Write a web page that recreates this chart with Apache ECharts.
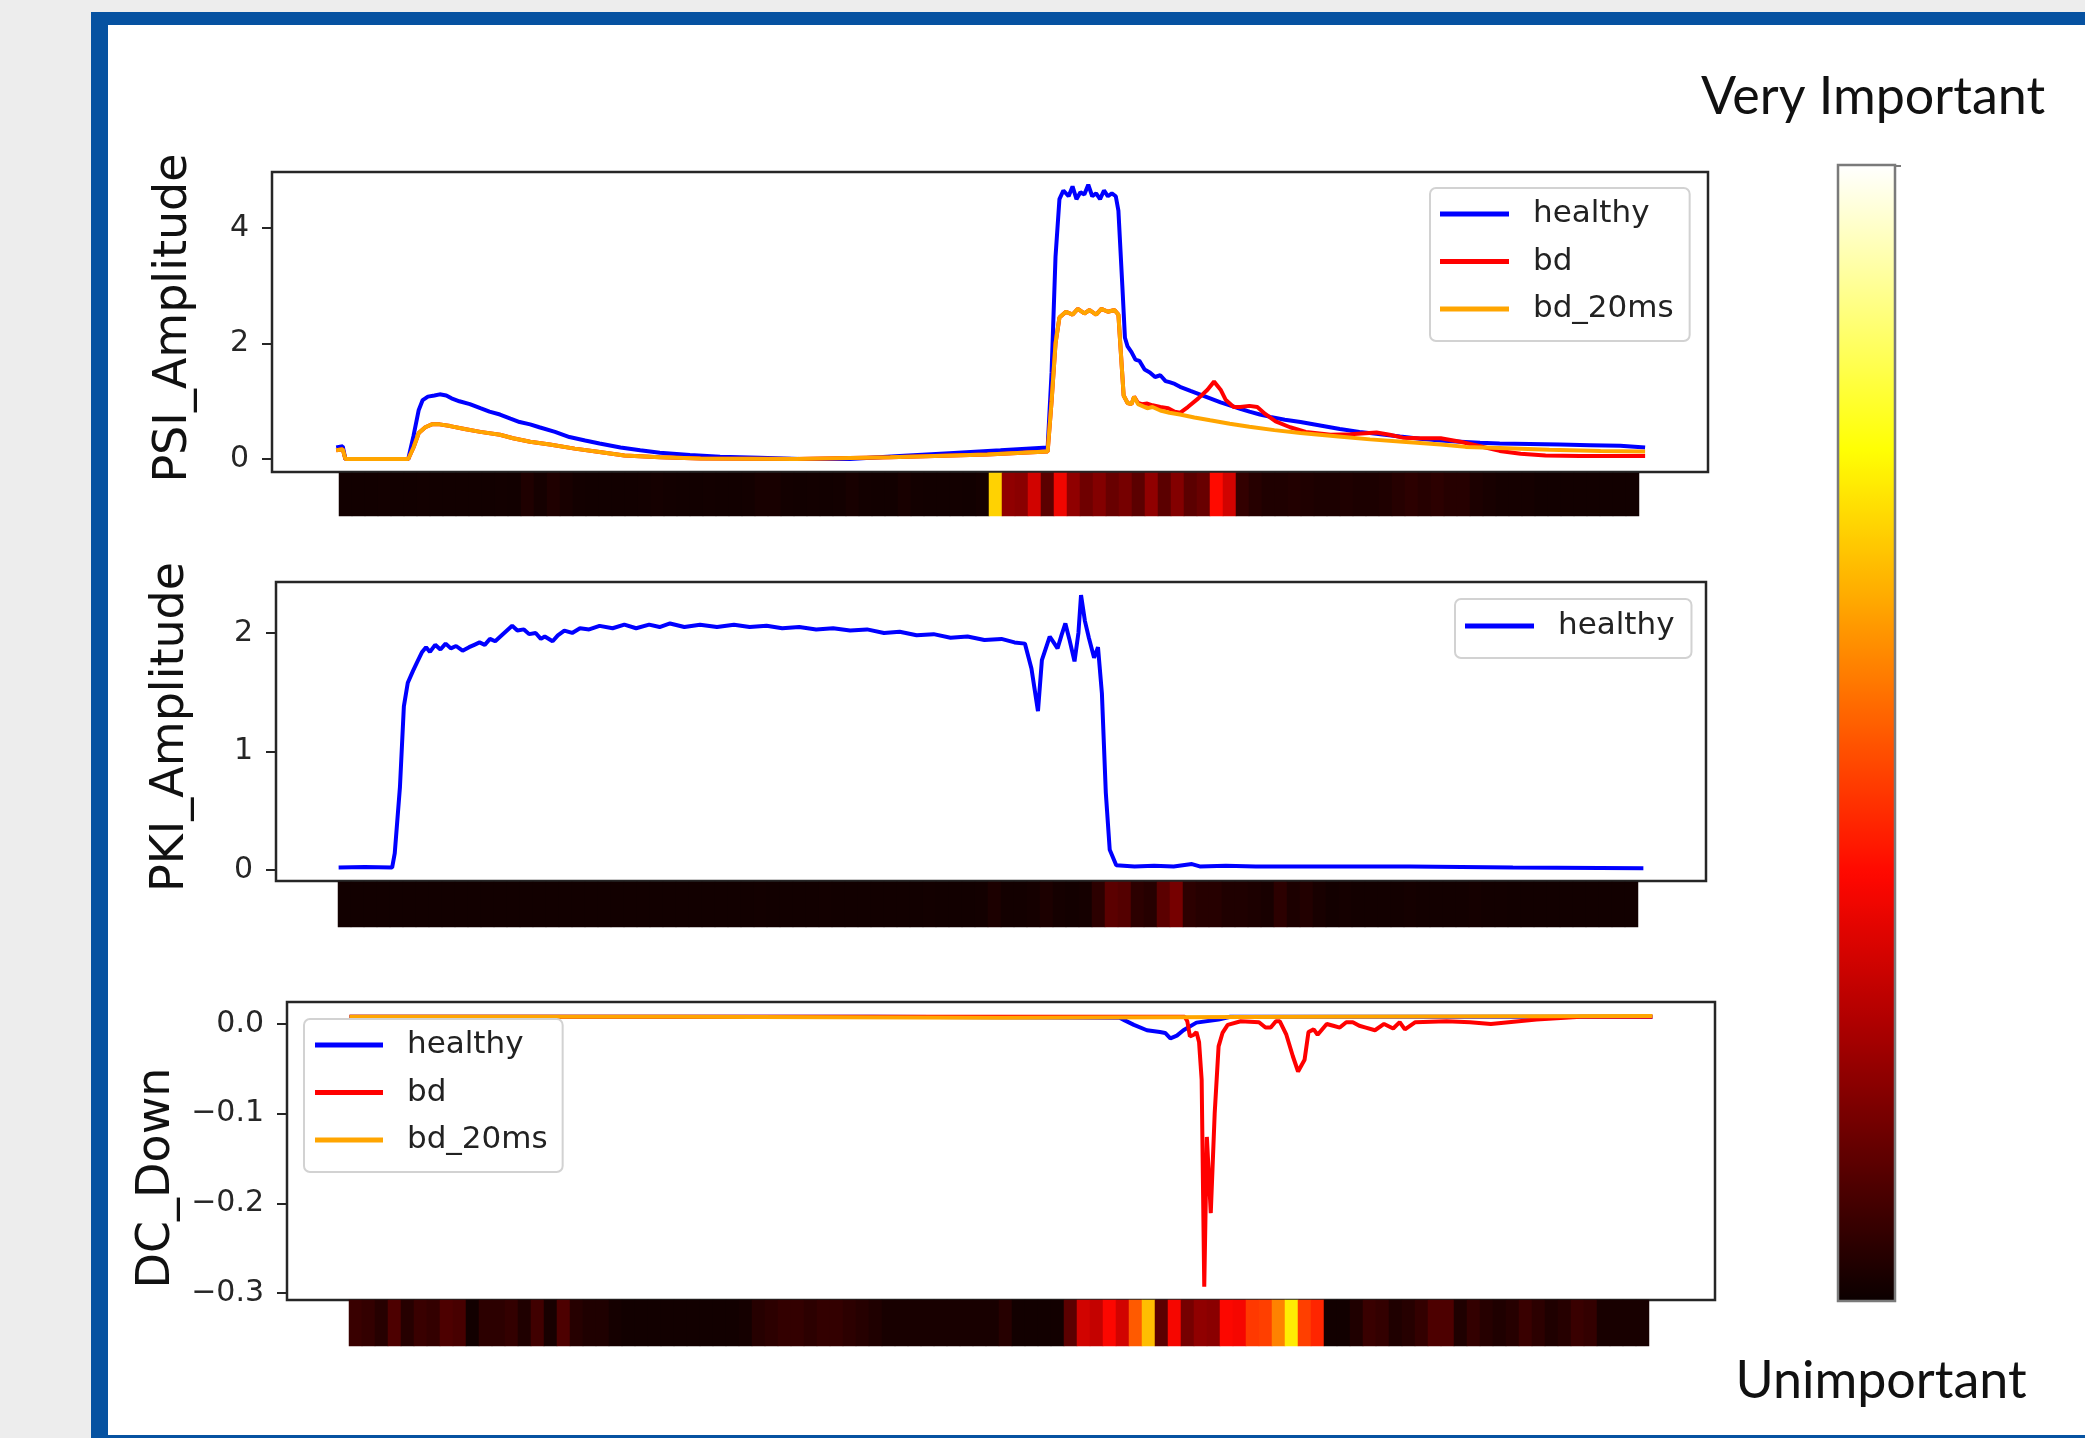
<!DOCTYPE html>
<html>
<head>
<meta charset="utf-8">
<script src="https://cdn.jsdelivr.net/npm/echarts@6/dist/echarts.min.js"></script>
<style>
html,body{margin:0;padding:0;background:#ededed;}
#c{width:2085px;height:1438px;}
</style>
</head>
<body>
<div id="c"></div>
<script>
// ---------- DATA (x = sample position 0..1000 along each signal) ----------
const psiHealthy = [[1,0.2],[6,0.22],[8,0],[56,0],[60,0.4],[64,0.85],[67,1.02],[71,1.08],[76,1.1],[80,1.12],[85,1.1],[89,1.05],[95,1.0],[103,0.95],[111,0.88],[118,0.82],[126,0.77],[134,0.7],[141,0.64],[149,0.6],[156,0.55],[168,0.47],[179,0.38],[191,0.32],[202,0.27],[218,0.2],[233,0.15],[248,0.11],[271,0.07],[294,0.04],[324,0.02],[355,0],[393,0],[431,0.05],[469,0.1],[508,0.15],[544,0.2],[547,1.5],[550,3.5],[553,4.5],[556,4.65],[560,4.55],[563,4.72],[566,4.5],[569,4.62],[572,4.58],[575,4.75],[578,4.55],[581,4.6],[584,4.5],[587,4.65],[590,4.55],[593,4.6],[596,4.55],[598,4.3],[601,3.0],[603,2.1],[605,1.95],[608,1.85],[611,1.72],[614,1.7],[618,1.55],[622,1.5],[626,1.42],[630,1.45],[634,1.35],[637,1.33],[641,1.3],[645,1.25],[653,1.18],[660,1.12],[668,1.05],[676,0.98],[683,0.93],[691,0.87],[698,0.82],[706,0.77],[714,0.73],[725,0.68],[737,0.64],[752,0.58],[767,0.52],[782,0.47],[798,0.43],[813,0.39],[828,0.35],[844,0.32],[859,0.3],[874,0.28],[889,0.27],[912,0.26],[935,0.25],[958,0.24],[981,0.23],[1000,0.2]];
const psiBd = [[1,0.15],[6,0.17],[8,0],[56,0],[60,0.2],[64,0.45],[69,0.55],[74,0.6],[80,0.6],[88,0.57],[99,0.52],[111,0.47],[126,0.42],[136,0.36],[149,0.3],[164,0.25],[183,0.18],[202,0.12],[221,0.06],[248,0.03],[279,0.01],[352,0],[424,0.03],[498,0.08],[544,0.13],[547,1.0],[550,2.0],[553,2.45],[558,2.55],[563,2.5],[567,2.6],[572,2.52],[576,2.58],[581,2.5],[585,2.6],[590,2.55],[595,2.58],[598,2.5],[600,1.8],[602,1.1],[605,0.97],[608,0.95],[610,1.08],[613,0.97],[616,0.95],[620,0.96],[624,0.93],[630,0.9],[636,0.88],[641,0.82],[645,0.8],[651,0.9],[659,1.05],[666,1.2],[671,1.34],[676,1.2],[680,1.02],[686,0.9],[691,0.9],[698,0.92],[704,0.9],[710,0.78],[718,0.65],[729,0.55],[741,0.47],[760,0.42],[775,0.43],[795,0.46],[805,0.42],[815,0.37],[828,0.36],[844,0.36],[859,0.3],[874,0.22],[889,0.14],[905,0.09],[924,0.06],[950,0.05],[1000,0.05]];
const psiBd20 = [[1,0.15],[6,0.17],[8,0],[56,0],[60,0.2],[64,0.45],[69,0.55],[74,0.6],[80,0.6],[88,0.57],[99,0.52],[111,0.47],[126,0.42],[136,0.36],[149,0.3],[164,0.25],[183,0.18],[202,0.12],[221,0.06],[248,0.03],[279,0.01],[352,0],[424,0.03],[498,0.08],[544,0.13],[547,1.0],[550,2.0],[553,2.45],[558,2.55],[563,2.5],[567,2.6],[572,2.52],[576,2.58],[581,2.5],[585,2.6],[590,2.55],[595,2.58],[598,2.5],[600,1.8],[602,1.1],[605,0.97],[608,0.95],[610,1.08],[613,0.95],[616,0.92],[620,0.88],[624,0.9],[630,0.84],[637,0.8],[645,0.77],[656,0.72],[668,0.67],[683,0.61],[698,0.56],[717,0.5],[737,0.45],[766,0.39],[790,0.34],[815,0.3],[844,0.25],[863,0.21],[889,0.19],[927,0.16],[966,0.14],[1000,0.13]];

const pkiHealthy = [[0,0.02],[20,0.025],[41,0.02],[43,0.14],[47,0.7],[50,1.38],[53,1.58],[57,1.68],[60,1.75],[64,1.84],[67,1.88],[70,1.84],[74,1.9],[78,1.86],[82,1.91],[86,1.87],[90,1.89],[95,1.85],[100,1.88],[104,1.9],[108,1.92],[112,1.9],[116,1.95],[120,1.93],[125,1.98],[129,2.02],[133,2.06],[137,2.02],[142,2.03],[146,1.99],[151,2.0],[155,1.95],[158,1.97],[164,1.93],[168,1.98],[173,2.02],[179,2.0],[185,2.04],[192,2.03],[200,2.06],[210,2.04],[219,2.07],[228,2.04],[238,2.07],[246,2.05],[254,2.08],[265,2.05],[277,2.07],[290,2.05],[303,2.07],[315,2.05],[328,2.06],[340,2.04],[353,2.05],[366,2.03],[379,2.04],[392,2.02],[405,2.03],[418,2.0],[430,2.01],[443,1.98],[456,1.99],[469,1.96],[482,1.97],[495,1.94],[508,1.95],[518,1.92],[526,1.91],[531,1.7],[536,1.34],[539,1.77],[545,1.97],[548,1.92],[551,1.87],[554,1.98],[557,2.08],[560,1.95],[564,1.76],[567,2.0],[569,2.32],[572,2.1],[575,1.96],[579,1.79],[582,1.88],[585,1.49],[588,0.65],[591,0.17],[596,0.04],[610,0.03],[625,0.035],[640,0.03],[654,0.05],[660,0.03],[680,0.035],[703,0.03],[760,0.03],[821,0.03],[900,0.02],[1000,0.015]];

const dcHealthy = [[0,0.008],[200,0.008],[400,0.008],[591,0.007],[595,0.004],[602,-0.001],[612,-0.007],[622,-0.009],[626,-0.01],[630,-0.016],[635,-0.013],[640,-0.007],[650,0.0015],[667,0.005],[676,0.008],[800,0.008],[1000,0.008]];
const dcBd = [[0,0.008],[300,0.008],[641,0.008],[643,0.003],[645,-0.014],[648,-0.012],[650,-0.009],[652,-0.02],[654,-0.062],[656,-0.293],[658,-0.126],[661,-0.211],[664,-0.1],[667,-0.025],[670,-0.01],[674,-0.001],[684,0.003],[698,0.002],[703,-0.004],[707,-0.004],[711,0.003],[714,0.003],[719,-0.012],[724,-0.036],[728,-0.053],[733,-0.04],[736,-0.009],[740,-0.006],[743,-0.012],[750,0.0],[755,-0.002],[760,-0.004],[765,0.002],[770,0.002],[775,-0.002],[780,-0.004],[787,-0.007],[794,0.0],[801,-0.005],[806,0.002],[810,-0.006],[818,0.002],[842,0.003],[860,0.002],[876,0.0],[911,0.005],[945,0.008],[1000,0.008]];
const dcBd20 = [[0,0.008],[250,0.008],[500,0.007],[750,0.008],[1000,0.009]];

// importance strips (one value per column, 0..1)
const psiImportance = [0.01,0.01,0.01,0.012,0.01,0.01,0.012,0.01,0.01,0.01,
 0.01,0.01,0.012,0.01,0.03,0.015,0.03,0.02,0.012,0.01,
 0.01,0.01,0.01,0.012,0.015,0.012,0.01,0.01,0.012,0.01,
 0.01,0.012,0.02,0.02,0.012,0.01,0.012,0.01,0.012,0.02,
 0.012,0.01,0.01,0.02,0.012,0.01,0.01,0.012,0.01,0.015,
 0.68,0.2,0.19,0.3,0.12,0.35,0.2,0.15,0.18,0.14,
 0.16,0.12,0.2,0.12,0.18,0.12,0.14,0.38,0.3,0.06,
 0.04,0.03,0.03,0.035,0.03,0.025,0.025,0.03,0.025,0.025,
 0.03,0.04,0.05,0.04,0.05,0.04,0.04,0.025,0.02,0.015,
 0.015,0.015,0.01,0.01,0.01,0.01,0.01,0.01,0.01,0.01];
const pkiImportance = [0.01,0.01,0.01,0.01,0.01,0.01,0.01,0.01,0.01,0.01,
 0.01,0.01,0.01,0.01,0.01,0.01,0.01,0.01,0.01,0.01,
 0.01,0.01,0.01,0.01,0.01,0.01,0.01,0.01,0.01,0.01,
 0.01,0.01,0.012,0.01,0.01,0.01,0.01,0.012,0.01,0.01,
 0.01,0.01,0.01,0.01,0.01,0.012,0.01,0.01,0.01,0.012,
 0.025,0.012,0.012,0.015,0.025,0.015,0.012,0.015,0.05,0.12,
 0.11,0.05,0.04,0.12,0.16,0.05,0.04,0.04,0.03,0.03,
 0.025,0.02,0.05,0.025,0.035,0.02,0.012,0.015,0.012,0.012,
 0.012,0.012,0.015,0.012,0.012,0.012,0.012,0.015,0.012,0.012,
 0.01,0.01,0.01,0.01,0.01,0.01,0.01,0.01,0.01,0.01];
const dcImportance = [0.07,0.06,0.04,0.1,0.04,0.07,0.06,0.1,0.09,0.01,
 0.05,0.05,0.06,0.03,0.08,0.02,0.1,0.04,0.03,0.03,
 0.015,0.01,0.01,0.01,0.01,0.01,0.01,0.01,0.01,0.01,
 0.015,0.04,0.05,0.06,0.06,0.05,0.06,0.06,0.05,0.04,
 0.03,0.02,0.02,0.02,0.02,0.02,0.02,0.02,0.02,0.02,
 0.04,0.01,0.01,0.01,0.01,0.12,0.3,0.28,0.37,0.3,
 0.5,0.65,0.12,0.36,0.16,0.2,0.19,0.37,0.36,0.45,
 0.46,0.56,0.72,0.46,0.42,0.01,0.01,0.03,0.07,0.06,
 0.03,0.04,0.06,0.1,0.1,0.03,0.06,0.04,0.03,0.04,
 0.07,0.05,0.03,0.04,0.07,0.06,0.02,0.02,0.02,0.02];

const psiTicks = [0, 2, 4];
const pkiTicks = [0, 1, 2];
const dcTicks = [0, -0.1, -0.2, -0.3];
const seriesNames = ['healthy', 'bd', 'bd_20ms'];
const hotColors = ['#0b0000','#5e0000','#b20000','#ff0700','#ff5a00','#ffae00','#ffff04','#ffff82','#ffffff'];

// ---------- CHART ----------
const FONT = 'DejaVu Sans';
const cols = Array.from({length: psiImportance.length}, (_, i) => i);
const chart = echarts.init(document.getElementById('c'), null, {renderer: 'canvas'});

function lineYAxis(gi, min, max, ticks, fmt) {
  return {
    type: 'value', gridIndex: gi, min: min, max: max,
    axisLine: {show: false, onZero: false},
    splitLine: {show: false},
    axisTick: {show: true, inside: false, length: 10, lineStyle: {color: '#262626', width: 2}, customValues: ticks},
    axisLabel: {show: true, margin: 23, fontFamily: FONT, fontSize: 30, color: '#262626', customValues: ticks, formatter: fmt}
  };
}
function hiddenXAxis(gi) {
  return {type: 'value', gridIndex: gi, min: -48, max: 1048, show: false, axisLine: {onZero: false}};
}
const intFmt = v => String(Math.round(v));
const dcFmt = v => (v < -1e-9 ? '\u2212' : '') + Math.abs(v).toFixed(1);

const gridStyle = {show: true, borderColor: '#262626', borderWidth: 2.5, backgroundColor: 'transparent'};
const legendBase = {
  orient: 'vertical', icon: 'rect', itemWidth: 69, itemHeight: 5, itemGap: 11.5,
  backgroundColor: 'rgba(255,255,255,0.85)', borderColor: '#d2d2d2', borderWidth: 2, borderRadius: 6,
  textStyle: {fontFamily: FONT, fontSize: 31, color: '#222', lineHeight: 36, padding: [0, 0, 0, 19]},
  selectedMode: false
};
function lineSeries(name, data, xi, color) {
  return {type: 'line', name: name, data: data, xAxisIndex: xi, yAxisIndex: xi,
    showSymbol: false, symbol: 'none', smooth: false,
    lineStyle: {width: 4, color: color}, itemStyle: {color: color}, emphasis: {disabled: true}, z: 3};
}
function stripSeries(vals, xi) {
  return {type: 'heatmap', xAxisIndex: xi, yAxisIndex: xi, data: vals.map((v, i) => [i, 0, v]),
    itemStyle: {borderWidth: 0}, emphasis: {disabled: true}, progressive: 0};
}
const blue = '#0000ff', red = '#ff0000', orange = '#ffa500';

const option = {
  animation: false,
  backgroundColor: 'transparent',
  grid: [
    Object.assign({left: 272, top: 172, width: 1436, height: 300}, gridStyle),
    Object.assign({left: 276, top: 582, width: 1430, height: 299}, gridStyle),
    Object.assign({left: 287, top: 1002, width: 1428, height: 298}, gridStyle),
    {left: 339, top: 473, width: 1300, height: 43, show: false},
    {left: 338, top: 882, width: 1300, height: 45, show: false},
    {left: 349, top: 1300, width: 1300, height: 46, show: false}
  ],
  xAxis: [
    hiddenXAxis(0), hiddenXAxis(1), hiddenXAxis(2),
    {type: 'category', gridIndex: 3, data: cols, show: false},
    {type: 'category', gridIndex: 4, data: cols, show: false},
    {type: 'category', gridIndex: 5, data: cols, show: false}
  ],
  yAxis: [
    lineYAxis(0, -0.225, 4.97, psiTicks, intFmt),
    lineYAxis(1, -0.093, 2.43, pkiTicks, intFmt),
    lineYAxis(2, -0.3078, 0.0245, dcTicks, dcFmt),
    {type: 'category', gridIndex: 3, data: ['s'], show: false},
    {type: 'category', gridIndex: 4, data: ['s'], show: false},
    {type: 'category', gridIndex: 5, data: ['s'], show: false}
  ],
  legend: [
    Object.assign({}, legendBase, {left: 1430, top: 188, padding: [8, 16, 14, 10], data: seriesNames}),
    Object.assign({}, legendBase, {left: 1455, top: 599, padding: [9, 17, 14, 10], data: ['healthy']}),
    Object.assign({}, legendBase, {left: 304, top: 1019, padding: [8, 15, 14, 11], itemWidth: 68, data: seriesNames})
  ],
  visualMap: {
    type: 'continuous', min: 0, max: 1, dimension: 2, seriesIndex: [7, 8, 9],
    orient: 'vertical', left: 1838, top: 165, itemWidth: 57, itemHeight: 1136,
    padding: 0, calculable: false, hoverLink: false, realtime: false, text: null,
    inRange: {color: hotColors}, textStyle: {color: 'transparent'}
  },
  series: [
    lineSeries('healthy', psiHealthy, 0, blue),
    lineSeries('bd', psiBd, 0, red),
    lineSeries('bd_20ms', psiBd20, 0, orange),
    lineSeries('healthy', pkiHealthy, 1, blue),
    lineSeries('healthy', dcHealthy, 2, blue),
    lineSeries('bd', dcBd, 2, red),
    lineSeries('bd_20ms', dcBd20, 2, orange),
    stripSeries(psiImportance, 3),
    stripSeries(pkiImportance, 4),
    stripSeries(dcImportance, 5)
  ],
  graphic: [
    {type: 'rect', silent: true, z: -30, shape: {x: 0, y: 0, width: 2085, height: 1438}, style: {fill: '#ededed'}},
    {type: 'rect', silent: true, z: -29, shape: {x: 91, y: 12, width: 2100, height: 1500}, style: {fill: '#0652a1'}},
    {type: 'rect', silent: true, z: -28, shape: {x: 108, y: 25, width: 2100, height: 1410}, style: {fill: '#ffffff'}},
    {type: 'rect', silent: true, z: 20, shape: {x: 1838, y: 165, width: 57, height: 1136}, style: {fill: 'none', stroke: '#7a7a7a', lineWidth: 2.5}},
    {type: 'line', silent: true, z: 20, shape: {x1: 1895, y1: 166, x2: 1901, y2: 166}, style: {stroke: '#7a7a7a', lineWidth: 2}},
    {type: 'text', silent: true, z: 30, x: 174, y: 318, rotation: Math.PI / 2,
      style: {text: 'PSI_Amplitude', font: '46px "DejaVu Sans"', fill: '#111', align: 'center', verticalAlign: 'middle', textAlign: 'center', textVerticalAlign: 'middle'}},
    {type: 'text', silent: true, z: 30, x: 171, y: 727, rotation: Math.PI / 2,
      style: {text: 'PKI_Amplitude', font: '46px "DejaVu Sans"', fill: '#111', align: 'center', verticalAlign: 'middle', textAlign: 'center', textVerticalAlign: 'middle'}},
    {type: 'text', silent: true, z: 30, x: 157, y: 1178, rotation: Math.PI / 2,
      style: {text: 'DC_Down', font: '46px "DejaVu Sans"', fill: '#111', align: 'center', verticalAlign: 'middle', textAlign: 'center', textVerticalAlign: 'middle'}},
    {type: 'text', silent: true, z: 30, x: 1873, y: 97,
      style: {text: 'Very Important', font: '52px Lato', fill: '#111', align: 'center', verticalAlign: 'middle', textAlign: 'center', textVerticalAlign: 'middle'}},
    {type: 'text', silent: true, z: 30, x: 1881, y: 1381,
      style: {text: 'Unimportant', font: '52px Lato', fill: '#111', align: 'center', verticalAlign: 'middle', textAlign: 'center', textVerticalAlign: 'middle'}}
  ]
};
chart.setOption(option);
</script>
</body>
</html>
